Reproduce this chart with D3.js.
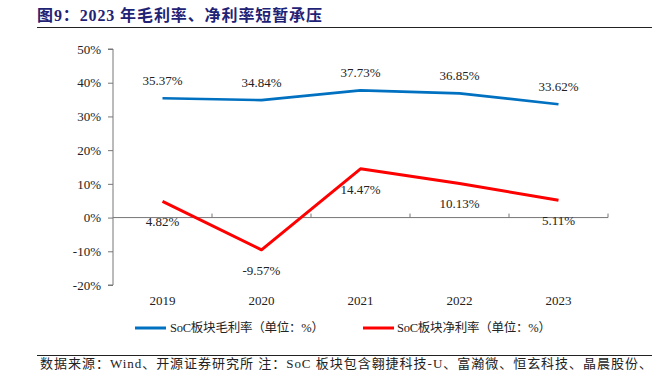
<!DOCTYPE html>
<html><head><meta charset="utf-8">
<script src="https://cdn.jsdelivr.net/npm/d3@7"></script>
<style>body{margin:0;background:#fff}svg{display:block}</style>
</head><body><svg id="c" width="662" height="386"></svg>
<script>
const years = ["2019","2020","2021","2022","2023"];
const gross = [35.37,34.84,37.73,36.85,33.62];
const net = [4.82,-9.57,14.47,10.13,5.11];
const yTicks = [-20,-10,0,10,20,30,40,50];
const seriesNames = ["SoC板块毛利率（单位：%）","SoC板块净利率（单位：%）"];
const colors = ["#0070C0","#FF0000"];
const titleText = "图9：2023 年毛利率、净利率短暂承压";
const footText = "数据来源：Wind、开源证券研究所  注：SoC 板块包含翱捷科技-U、富瀚微、恒玄科技、晶晨股份、";

const svg = d3.select("#c");
const serif = "'Liberation Serif','Times New Roman','Noto Serif CJK SC','Noto Sans CJK SC',serif";
const cjk = "'Liberation Serif','Noto Sans CJK SC',serif";

// title
svg.append("text").attr("x",37).attr("y",21).attr("font-family",cjk).attr("font-weight","bold")
  .attr("font-size",16).attr("fill","#1f2376").attr("textLength",285).attr("lengthAdjust","spacing").text(titleText);
svg.append("line").attr("x1",37).attr("x2",652).attr("y1",27.5).attr("y2",27.5).attr("stroke","#222").attr("stroke-width",1.2);

const x = d3.scaleBand().domain(years).range([113,608]);
const y = d3.scaleLinear().domain([-20,50]).range([285,49]);

// y axis
const ya = svg.append("g").attr("transform","translate(113,0)")
  .call(d3.axisLeft(y).tickValues(yTicks).tickSize(5).tickFormat(d=>d+"%"));
ya.select(".domain").attr("stroke","#777").attr("d","M-5,"+y(50)+"H0V"+y(-20)+"H-5");
ya.selectAll(".tick line").attr("stroke","#777");
ya.selectAll("text").attr("font-family",serif).attr("font-size",13).attr("fill","#222").attr("x",-12);

// x axis at zero
const xa = svg.append("g").attr("transform","translate(0,"+y(0)+")")
  .call(d3.axisBottom(x).tickSize(0).tickFormat(""));
xa.select(".domain").attr("stroke","#777").attr("d","M113,0H608");
xa.selectAll(".tick").remove();
const bounds = years.map(d=>x(d)+x.bandwidth());
xa.selectAll("line.b").data(bounds).enter().append("line").attr("x1",d=>d).attr("x2",d=>d)
  .attr("y1",0).attr("y2",-4).attr("stroke","#777");

// x labels
svg.selectAll("text.xl").data(years).enter().append("text")
  .attr("x",d=>x(d)+x.bandwidth()/2).attr("y",305).attr("text-anchor","middle")
  .attr("font-family",serif).attr("font-size",13).attr("fill","#222").text(d=>d);

const line = d3.line().x((d,i)=>x(years[i])+x.bandwidth()/2).y(d=>y(d));
[gross,net].forEach((s,k)=>{
  svg.append("path").datum(s).attr("d",line).attr("fill","none")
    .attr("stroke",colors[k]).attr("stroke-width",k?3:2.6).attr("stroke-linejoin","round");
});

// labels
svg.selectAll("text.gl").data(gross).enter().append("text")
  .attr("x",(d,i)=>x(years[i])+x.bandwidth()/2).attr("y",d=>y(d)-13)
  .attr("text-anchor","middle").attr("font-family",serif).attr("font-size",13).attr("fill","#222")
  .text(d=>d.toFixed(2)+"%");
svg.selectAll("text.nl").data(net).enter().append("text")
  .attr("x",(d,i)=>x(years[i])+x.bandwidth()/2).attr("y",d=>y(d)+25)
  .attr("text-anchor","middle").attr("font-family",serif).attr("font-size",13).attr("fill","#222")
  .text(d=>d.toFixed(2)+"%");

// legend
const lg = [[135,170],[363,397]];
seriesNames.forEach((n,k)=>{
  svg.append("line").attr("x1",lg[k][0]).attr("x2",lg[k][0]+31).attr("y1",328).attr("y2",328)
    .attr("stroke",colors[k]).attr("stroke-width",3);
  svg.append("text").attr("x",lg[k][1]).attr("y",332).attr("font-family",cjk).attr("font-size",12.5)
    .attr("fill","#222").attr("textLength",154).attr("lengthAdjust","spacing").text(n);
});

svg.append("line").attr("x1",37).attr("x2",652).attr("y1",355.5).attr("y2",355.5).attr("stroke","#222").attr("stroke-width",1.2);
svg.append("text").attr("x",40).attr("y",368).attr("font-family",cjk).attr("font-size",13)
  .attr("fill","#222").attr("textLength",612).attr("lengthAdjust","spacing").text(footText);
</script></body></html>
